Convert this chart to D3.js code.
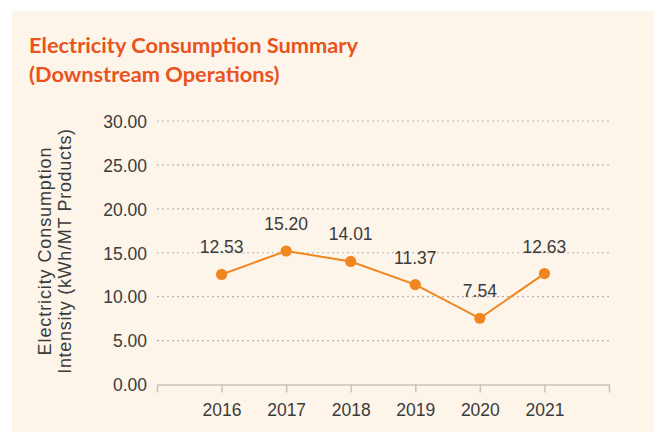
<!DOCTYPE html>
<html>
<head>
<meta charset="utf-8">
<script src="https://cdn.jsdelivr.net/npm/d3@7"></script>
<style>
  html, body { margin: 0; padding: 0; background: #ffffff; }
  svg { display: block; }
</style>
</head>
<body>
<svg id="chart" width="654" height="432"></svg>
<script>
const years = [2016, 2017, 2018, 2019, 2020, 2021];
const values = [12.53, 15.20, 14.01, 11.37, 7.54, 12.63];
const yTicks = [0, 5, 10, 15, 20, 25, 30];
const titleLines = ["Electricity Consumption Summary", "(Downstream Operations)"];
const yTitleLines = ["Electricity Consumption", "Intensity (kWh/MT Products)"];

const svg = d3.select("#chart");
const font = "'Liberation Sans', Arial, sans-serif";
const textColor = "#3b3b3b";
const orange = "#f0861f";

svg.append("rect").attr("x", 12).attr("y", 11).attr("width", 642).attr("height", 421)
  .attr("fill", "#fdf5ea");

svg.append("g").selectAll("text").data(titleLines).join("text")
  .attr("x", 29).attr("y", (d, i) => 53 + i * 29)
  .attr("font-family", "Lato, sans-serif").attr("font-weight", 700)
  .attr("font-size", 21.8).attr("fill", "#e9531d")
  .text(d => d);

const x = d3.scaleLinear().domain([2015, 2022]).range([157, 609]);
const y = d3.scaleLinear().domain([0, 30]).range([384.5, 121]);

// gridlines
svg.append("g").selectAll("line").data(yTicks.filter(d => d > 0)).join("line")
  .attr("x1", 157).attr("x2", 609)
  .attr("y1", d => y(d)).attr("y2", d => y(d))
  .attr("stroke", "#b9b5ae").attr("stroke-width", 1.2)
  .attr("stroke-dasharray", "2,3");

// y axis
const yAxis = svg.append("g").attr("transform", "translate(150,0)")
  .call(d3.axisLeft(y).tickValues(yTicks).tickFormat(d3.format(".2f")).tickSize(0).tickPadding(3));
yAxis.select(".domain").remove();
yAxis.selectAll("text").attr("font-family", font).attr("font-size", 17.5)
  .attr("fill", textColor).attr("dy", "0.36em");

// x axis
const xAxis = svg.append("g").attr("transform", "translate(0,384.5)")
  .call(d3.axisBottom(x).tickValues(d3.range(2015, 2023))
    .tickFormat(d => years.includes(d) ? String(d) : "")
    .tickSize(8).tickSizeOuter(0));
xAxis.select(".domain").attr("stroke", "#c9c5bd").attr("stroke-width", 1.6);
xAxis.selectAll(".tick line").attr("stroke", "#c9c5bd").attr("stroke-width", 1.6);
xAxis.selectAll("text").attr("font-family", font).attr("font-size", 17.5)
  .attr("fill", textColor).attr("y", 31).attr("dy", 0);

// y axis title
svg.append("g").selectAll("text").data(yTitleLines).join("text")
  .attr("transform", (d, i) => `translate(${51 + i * 20},251) rotate(-90)`)
  .attr("text-anchor", "middle")
  .attr("font-family", font).attr("font-size", 18)
  .attr("letter-spacing", (d, i) => i === 0 ? 0.9 : 0.7)
  .attr("fill", textColor)
  .text(d => d);

// line
const data = years.map((yr, i) => ({ yr, v: values[i] }));
svg.append("path").datum(data)
  .attr("fill", "none").attr("stroke", orange).attr("stroke-width", 2)
  .attr("d", d3.line().x(d => x(d.yr)).y(d => y(d.v)));

svg.append("g").selectAll("circle").data(data).join("circle")
  .attr("cx", d => x(d.yr)).attr("cy", d => y(d.v)).attr("r", 5.6)
  .attr("fill", orange);

svg.append("g").selectAll("text").data(data).join("text")
  .attr("x", d => x(d.yr)).attr("y", d => y(d.v) - 21)
  .attr("text-anchor", "middle")
  .attr("font-family", font).attr("font-size", 17.5)
  .attr("fill", textColor)
  .text(d => d.v.toFixed(2));
</script>
</body>
</html>
